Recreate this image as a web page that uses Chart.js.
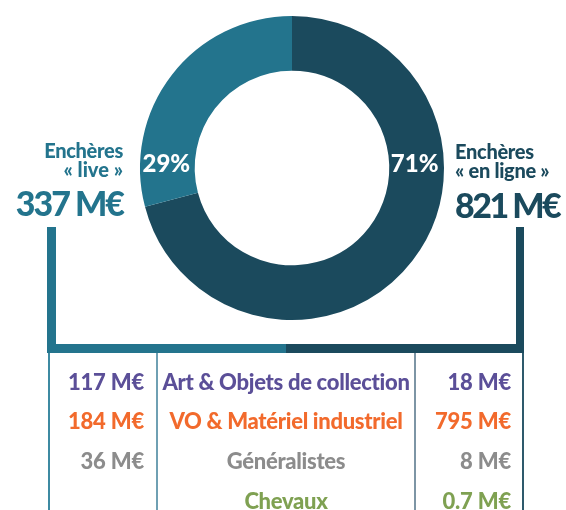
<!DOCTYPE html>
<html>
<head>
<meta charset="utf-8">
<script src="https://cdn.jsdelivr.net/npm/chart.js@4.4.1/dist/chart.umd.min.js"></script>
<style>
  html, body { margin: 0; padding: 0; background: #fff; }
  #wrap { position: relative; width: 566px; height: 510px; overflow: hidden; font-family: Lato, "Open Sans", sans-serif; font-weight: 900; }
  #donut { position: absolute; left: 0; top: 0; }
  .txt { position: absolute; white-space: nowrap; line-height: 1; }
  .bar { position: absolute; }
</style>
</head>
<body>
<div id="wrap">
  <canvas id="donut" width="566" height="510"></canvas>
</div>
<script>
// --- chart data ---
const channelLabels = ['Enchères « en ligne »', 'Enchères « live »'];
const channelTotals = [821, 337];          // M€
const channelColors = ['#1b4a5d', '#23748d'];

const categories = ['Art & Objets de collection', 'VO & Matériel industriel', 'Généralistes', 'Chevaux'];
const liveValues = ['117 M€', '184 M€', '36 M€', ''];
const onlineValues = ['18 M€', '795 M€', '8 M€', '0.7 M€'];
const categoryColors = ['#5b4f98', '#f26a2c', '#8c8c8c', '#7fa152'];

const wrap = document.getElementById('wrap');

function addText(text, css) {
    const d = document.createElement('div');
    d.className = 'txt';
    d.textContent = text;
    Object.assign(d.style, css);
    wrap.appendChild(d);
    return d;
}

function addBar(css) {
    const d = document.createElement('div');
    d.className = 'bar';
    Object.assign(d.style, css);
    wrap.appendChild(d);
}

// percent labels sitting in the ring, left and right
const ringLabels = {
    id: 'ringLabels',
    afterDatasetsDraw(chart) {
        const arc = chart.getDatasetMeta(0).data[0];
        const { x, y, innerRadius, outerRadius } = arc.getProps(['x', 'y', 'innerRadius', 'outerRadius'], true);
        const mid = (innerRadius + outerRadius) / 2;
        const total = channelTotals.reduce((a, b) => a + b, 0);
        const pct = channelTotals.map(v => Math.round(v / total * 100) + '%');
        const ctx = chart.ctx;
        ctx.save();
        ctx.fillStyle = '#ffffff';
        ctx.font = '900 24px Lato, sans-serif';
        ctx.textAlign = 'center';
        ctx.textBaseline = 'middle';
        ctx.fillText(pct[0], x + mid - 2, y - 4);
        ctx.fillText(pct[1], x - mid - 1, y - 4);
        ctx.restore();
    }
};

new Chart(document.getElementById('donut'), {
    type: 'doughnut',
    data: {
        labels: channelLabels,
        datasets: [{
            data: channelTotals,
            backgroundColor: channelColors,
            borderWidth: 0
        }]
    },
    options: {
        responsive: false,
        animation: false,
        cutout: '64%',
        layout: { padding: { left: 140, right: 122, top: 16, bottom: 190 } },
        plugins: { legend: { display: false }, tooltip: { enabled: false } }
    },
    plugins: [ringLabels]
});

// side labels
addText('Enchères', { right: (566 - 123) + 'px', top: '140px', fontSize: '20px', color: channelColors[1], letterSpacing: '-0.3px' });
addText('« live »', { right: (566 - 123) + 'px', top: '159px', fontSize: '20px', color: channelColors[1] });
addText(channelTotals[1] + ' M€', { right: (566 - 123) + 'px', top: '186px', fontSize: '34px', color: channelColors[1], letterSpacing: '-2px' });

addText('Enchères', { left: '455px', top: '141px', fontSize: '20px', color: channelColors[0], letterSpacing: '-0.3px' });
addText('« en ligne »', { left: '455px', top: '160px', fontSize: '20px', color: channelColors[0], letterSpacing: '-0.3px' });
addText(channelTotals[0] + ' M€', { left: '455px', top: '188px', fontSize: '34px', color: channelColors[0], letterSpacing: '-2.5px' });

// bracket
addBar({ left: '47px', top: '227px', width: '9px', height: '126px', background: channelColors[1] });
addBar({ left: '47px', top: '344px', width: '239px', height: '9px', background: channelColors[1] });
addBar({ left: '286px', top: '344px', width: '238px', height: '9px', background: channelColors[0] });
addBar({ left: '516px', top: '227px', width: '8px', height: '126px', background: channelColors[0] });

// table borders
addBar({ left: '48px', top: '353px', width: '2px', height: '160px', background: '#3d8aa2' });
addBar({ left: '156px', top: '353px', width: '2px', height: '160px', background: '#6fa0b3' });
addBar({ left: '414px', top: '353px', width: '2px', height: '160px', background: '#7d95a5' });
addBar({ left: '522px', top: '353px', width: '2px', height: '160px', background: '#2e5a6c' });

// table rows
const rowTop = [371, 410, 450, 490];
categories.forEach((cat, i) => {
    const col = categoryColors[i];
    if (liveValues[i]) addText(liveValues[i], { right: (566 - 144) + 'px', top: rowTop[i] + 'px', fontSize: '22px', color: col, letterSpacing: '-0.2px' });
    addText(cat, { left: '158px', width: '256px', textAlign: 'center', top: rowTop[i] + 'px', fontSize: '22px', color: col, letterSpacing: '-0.3px' });
    addText(onlineValues[i], { right: (566 - 511) + 'px', top: rowTop[i] + 'px', fontSize: '22px', color: col, letterSpacing: '-0.2px' });
});
</script>
</body>
</html>
